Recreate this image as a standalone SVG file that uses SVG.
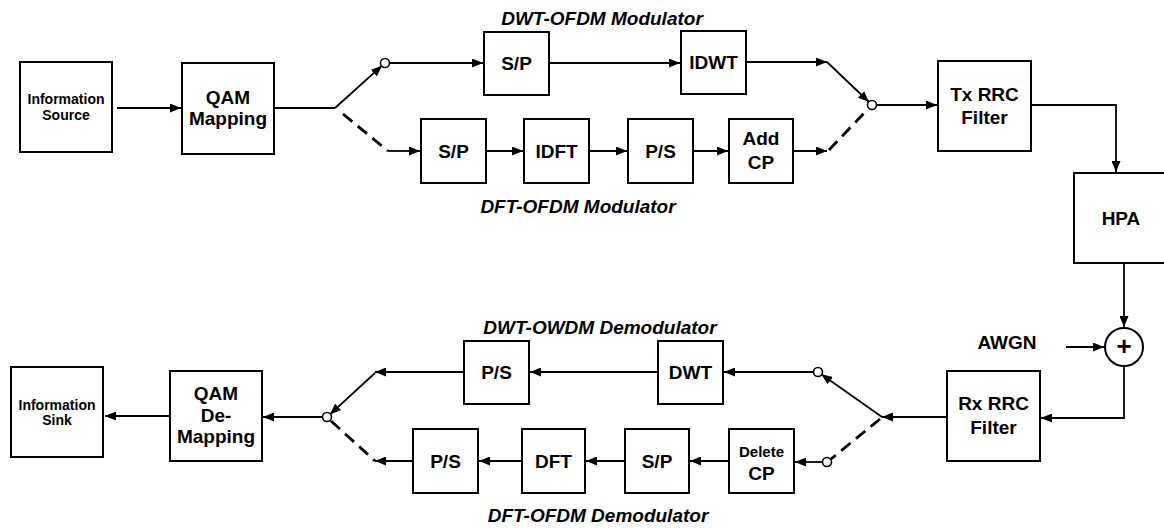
<svg xmlns="http://www.w3.org/2000/svg" width="1164" height="528" viewBox="0 0 1164 528">
<style>
.box{fill:#fff;stroke:#000;stroke-width:2}
.ln{fill:none;stroke:#000;stroke-width:1.8}
.ar{fill:none;stroke:#000;stroke-width:1.8;marker-end:url(#ah)}
.dash{fill:none;stroke:#000;stroke-width:2.8;stroke-dasharray:12 7}
.sw{fill:#fff;stroke:#000;stroke-width:1.6}
.t{font-family:"Liberation Sans",Arial,sans-serif;font-weight:bold;font-size:19px;text-anchor:middle;fill:#000}
.s{font-size:14px}
.m{font-size:15px}
.ti{font-family:"Liberation Sans",Arial,sans-serif;font-weight:bold;font-style:italic;font-size:19px;text-anchor:middle;fill:#000}
</style>
<defs>
<marker id="ah" markerWidth="11" markerHeight="9" refX="11" refY="4.5" orient="auto" markerUnits="userSpaceOnUse"><path d="M0,0 L11,4.5 L0,9 Z" fill="#000"/></marker>
</defs>
<rect width="1164" height="528" fill="#fff"/>
<g id="connectors">
<line class="ar" x1="117" y1="108" x2="181" y2="108"/>
<line class="ln" x1="274" y1="108" x2="335" y2="108"/>
<line class="ar" x1="335" y1="108" x2="382" y2="65.7"/>
<line class="dash" x1="343" y1="114" x2="388" y2="151"/>
<line class="ar" x1="388" y1="151" x2="420" y2="151"/>
<line class="ar" x1="389.5" y1="63" x2="483" y2="63"/>
<line class="ar" x1="549" y1="63" x2="680" y2="63"/>
<line class="ar" x1="746" y1="62" x2="827" y2="62"/>
<line class="ar" x1="827" y1="62" x2="869" y2="102"/>
<line class="ar" x1="486" y1="151" x2="523" y2="151"/>
<line class="ar" x1="589" y1="151" x2="627" y2="151"/>
<line class="ar" x1="693" y1="151" x2="728" y2="151"/>
<line class="ar" x1="793" y1="151" x2="827" y2="151"/>
<line class="dash" x1="829" y1="150" x2="868" y2="109"/>
<line class="ar" x1="876.5" y1="105" x2="937" y2="105"/>
<polyline class="ar" points="1031,105 1116,105 1116,172"/>
<line class="ar" x1="1124" y1="263" x2="1124" y2="327"/>
<line class="ar" x1="1066" y1="347" x2="1104" y2="347"/>
<polyline class="ar" points="1124,366 1124,418 1041,418"/>
<line class="ar" x1="947" y1="417" x2="882" y2="417"/>
<line class="ar" x1="882" y1="417" x2="821.3" y2="374.3"/>
<line class="dash" x1="880" y1="419" x2="831" y2="459"/>
<line class="ar" x1="813.5" y1="372" x2="724" y2="372"/>
<line class="ar" x1="822.5" y1="462" x2="795" y2="462"/>
<line class="ar" x1="729" y1="461" x2="690" y2="461"/>
<line class="ar" x1="625" y1="461" x2="586" y2="461"/>
<line class="ar" x1="522" y1="461" x2="479" y2="461"/>
<line class="ar" x1="658" y1="372" x2="530" y2="372"/>
<line class="ar" x1="464" y1="372" x2="375" y2="372"/>
<line class="ar" x1="375" y1="373" x2="330" y2="414.3"/>
<line class="dash" x1="331" y1="421" x2="375" y2="461"/>
<line class="ar" x1="413" y1="461" x2="375" y2="461"/>
<line class="ar" x1="322.5" y1="417" x2="263" y2="417"/>
<line class="ar" x1="170" y1="416" x2="105" y2="416"/>
<circle class="sw" cx="385" cy="63" r="4.5"/>
<circle class="sw" cx="872" cy="105" r="4.5"/>
<circle class="sw" cx="818" cy="372" r="4.5"/>
<circle class="sw" cx="827" cy="462" r="4.5"/>
<circle class="sw" cx="327" cy="417" r="4.5"/>
</g>
<g id="info-source"><rect class="box" x="20" y="62" width="92" height="90"/><text class="t s" x="66" y="104">Information</text><text class="t s" x="66" y="120">Source</text></g>
<g id="qam-mapping"><rect class="box" x="182" y="63" width="92" height="91"/><text class="t" x="228" y="104">QAM</text><text class="t" x="228" y="125">Mapping</text></g>
<g id="title-dwt-mod"><text class="ti" x="602" y="25">DWT-OFDM Modulator</text></g>
<g id="sp-top"><rect class="box" x="484" y="32" width="65" height="63"/><text class="t" x="516.5" y="70">S/P</text></g>
<g id="idwt"><rect class="box" x="681" y="31" width="65" height="63"/><text class="t" x="713.5" y="69">IDWT</text></g>
<g id="sp-bot"><rect class="box" x="421" y="119" width="65" height="64"/><text class="t" x="453.5" y="158">S/P</text></g>
<g id="idft"><rect class="box" x="524" y="119" width="65" height="64"/><text class="t" x="556.5" y="158">IDFT</text></g>
<g id="ps-mod"><rect class="box" x="628" y="119" width="65" height="64"/><text class="t" x="660.5" y="158">P/S</text></g>
<g id="add-cp"><rect class="box" x="729" y="119" width="64" height="64"/><text class="t" x="761" y="145">Add</text><text class="t" x="761" y="169">CP</text></g>
<g id="title-dft-mod"><text class="ti" x="578" y="213">DFT-OFDM Modulator</text></g>
<g id="tx-rrc"><rect class="box" x="938" y="61" width="93" height="90"/><text class="t" x="984.5" y="101">Tx RRC</text><text class="t" x="984.5" y="124">Filter</text></g>
<g id="hpa"><rect class="box" x="1074" y="173" width="92" height="90"/><text class="t" x="1121" y="225">HPA</text></g>
<g id="adder"><circle class="box" cx="1124" cy="347" r="19"/><text class="t" x="1124" y="355" style="font-size:26px">+</text></g>
<g id="awgn"><text class="t" x="1007" y="349">AWGN</text></g>
<g id="rx-rrc"><rect class="box" x="947" y="371" width="93" height="90"/><text class="t" x="993.5" y="410">Rx RRC</text><text class="t" x="993.5" y="434">Filter</text></g>
<g id="title-dwt-demod"><text class="ti" x="600" y="334">DWT-OWDM Demodulator</text></g>
<g id="ps-top"><rect class="box" x="464" y="341" width="65" height="63"/><text class="t" x="496.5" y="379">P/S</text></g>
<g id="dwt"><rect class="box" x="658" y="341" width="65" height="63"/><text class="t" x="690.5" y="379">DWT</text></g>
<g id="delete-cp"><rect class="box" x="729" y="429" width="65" height="64"/><text class="t m" x="761.5" y="457">Delete</text><text class="t" x="761.5" y="480">CP</text></g>
<g id="sp-demod"><rect class="box" x="625" y="429" width="64" height="64"/><text class="t" x="657" y="468">S/P</text></g>
<g id="dft"><rect class="box" x="522" y="429" width="63" height="64"/><text class="t" x="553.5" y="468">DFT</text></g>
<g id="ps-bot"><rect class="box" x="413" y="429" width="65" height="64"/><text class="t" x="445.5" y="468">P/S</text></g>
<g id="title-dft-demod"><text class="ti" x="598" y="522">DFT-OFDM Demodulator</text></g>
<g id="qam-demapping"><rect class="box" x="170" y="371" width="92" height="90"/><text class="t" x="216" y="400">QAM</text><text class="t" x="216" y="422">De-</text><text class="t" x="216" y="443">Mapping</text></g>
<g id="info-sink"><rect class="box" x="11" y="367" width="92" height="90"/><text class="t s" x="57" y="410">Information</text><text class="t s" x="57" y="425">Sink</text></g>
</svg>
